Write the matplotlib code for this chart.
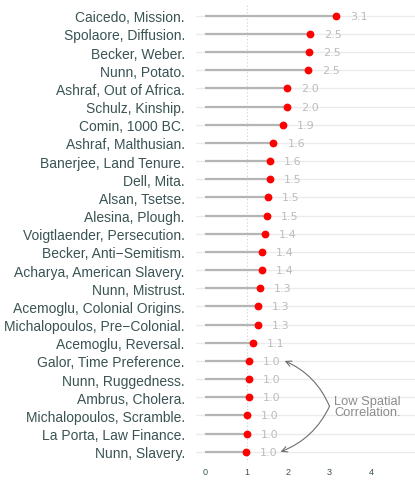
import matplotlib
matplotlib.use("Agg")
import matplotlib.pyplot as plt

# studies, top to bottom
studies = [
    "Caicedo, Mission.", "Spolaore, Diffusion.", "Becker, Weber.", "Nunn, Potato.",
    "Ashraf, Out of Africa.", "Schulz, Kinship.", "Comin, 1000 BC.", "Ashraf, Malthusian.",
    "Banerjee, Land Tenure.", "Dell, Mita.", "Alsan, Tsetse.", "Alesina, Plough.",
    "Voigtlaender, Persecution.", "Becker, Anti\u2212Semitism.", "Acharya, American Slavery.",
    "Nunn, Mistrust.", "Acemoglu, Colonial Origins.", "Michalopoulos, Pre\u2212Colonial.",
    "Acemoglu, Reversal.", "Galor, Time Preference.", "Nunn, Ruggedness.", "Ambrus, Cholera.",
    "Michalopoulos, Scramble.", "La Porta, Law Finance.", "Nunn, Slavery.",
]
values = [3.16, 2.53, 2.50, 2.48, 1.98, 1.97, 1.88, 1.65, 1.57, 1.57, 1.51, 1.50,
          1.45, 1.38, 1.37, 1.32, 1.28, 1.28, 1.16, 1.05, 1.06, 1.05, 1.01, 1.00, 0.99]
value_labels = ["3.1", "2.5", "2.5", "2.5", "2.0", "2.0", "1.9", "1.6", "1.6", "1.5",
                "1.5", "1.5", "1.4", "1.4", "1.4", "1.3", "1.3", "1.3", "1.1", "1.0",
                "1.0", "1.0", "1.0", "1.0", "1.0"]
x_ticks = [0, 1, 2, 3, 4]

plt.rcParams["font.family"] = ["Liberation Sans", "DejaVu Sans"]

fig = plt.figure(figsize=(4.15, 4.81), dpi=100)
ax = fig.add_axes([0.472, 0.036, 0.528, 0.952])

ypos = list(range(len(studies)))
for y in ypos:
    ax.axhline(y, color="#ebebeb", lw=1.0, zorder=0)
ax.axvline(1, color="#d0d0d0", lw=0.8, ls=(0, (1, 2)), zorder=1)

ax.hlines(ypos, 0, values, color="#b5b5b5", lw=1.6, zorder=2)
ax.plot(values, ypos, "o", color="red", ms=4.6, zorder=3)
for y, v, s in zip(ypos, values, value_labels):
    ax.text(v + 0.55, y, s, color="#bcbcbc", fontsize=8, ha="center", va="center",
            family=["DejaVu Sans"])

# annotation for low spatial correlation studies
ax.text(3.12, 21.5, "Low Spatial\nCorrelation.", color="#8c8c8c", fontsize=9.3,
        ha="left", va="center", linespacing=0.9)
for target in (19, 24):
    ax.annotate("", xy=(1.92 if target == 19 else 1.82, target), xytext=(3.0, 21.5),
                arrowprops=dict(arrowstyle="->", color="#6e6e6e", lw=0.8,
                                connectionstyle="arc3,rad=%s" % ("0.2" if target == 19 else "-0.2"),
                                shrinkA=0, shrinkB=0))

ax.set_xlim(-0.22, 5.06)
ax.set_ylim(len(studies) - 0.4, -0.6)
ax.set_yticks(ypos)
ax.set_yticklabels(studies, fontsize=10, color="#3b5353")
ax.set_xticks(x_ticks)
ax.set_xticklabels([str(t) for t in x_ticks], fontsize=6.5, color="#3b5353")
ax.tick_params(length=0, axis="y", pad=8)
ax.tick_params(length=0, axis="x", pad=3)
for spine in ax.spines.values():
    spine.set_visible(False)

fig.savefig("out.png", dpi=100, facecolor="white")
